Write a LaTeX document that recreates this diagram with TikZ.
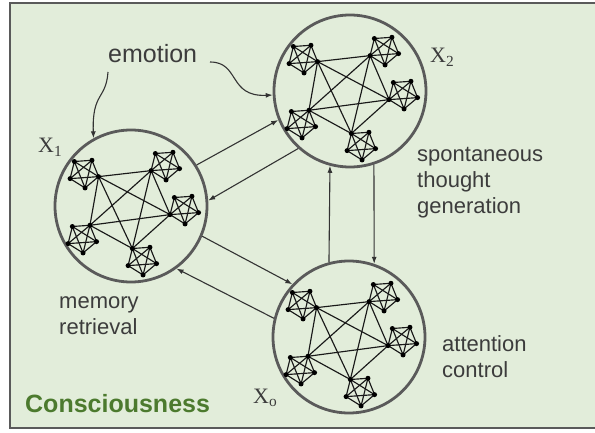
\documentclass[tikz,border=0pt]{standalone}
\usepackage{fontspec}
\setmainfont{Liberation Sans}
\newfontfamily\varfont{Liberation Serif}
\usetikzlibrary{calc,arrows.meta}
\definecolor{bgreen}{HTML}{E2EDDA}
\definecolor{cgreen}{HTML}{4C7A2E}
\definecolor{ringgray}{HTML}{5A5A5A}
\definecolor{txtgray}{HTML}{3C3C3C}
\tikzset{
  bignet/.style={circle, draw=ringgray, line width=2.8pt, minimum size=152pt, inner sep=0pt},
  link/.style={draw=black!90, line width=1.15pt},
  flow/.style={draw=black!80, line width=1.1pt, -{Latex[length=7pt,width=5pt]}},
  lbl/.style={font=\fontsize{22}{26}\selectfont, text=txtgray, align=left, inner sep=0pt},
  varlbl/.style={font=\varfont\fontsize{22}{26}\selectfont, text=txtgray, inner sep=0pt},
}
% five 5-cliques, hubs joined
\newcommand{\cliquenet}[1]{%
  \foreach \i/\cx/\cy/\h in {1/-47/-33/0, 2/34/-41/2, 3/53/3/2, 4/-49/32/4, 5/11/54/3}{
    \foreach \k in {0,...,4}
      \coordinate (#1-\i-\k) at ($(#1)+(\cx,\cy)+(14+72*\k:15)$);
    \foreach \k in {0,...,3}{
      \pgfmathtruncatemacro\nxt{\k+1}
      \foreach \m in {\nxt,...,4}
        \draw[link] (#1-\i-\k) -- (#1-\i-\m);
    }
    \coordinate (#1-h\i) at (#1-\i-\h);
  }
  % hubs
  \foreach \a in {1,...,4}{
    \pgfmathtruncatemacro\nxt{\a+1}
    \foreach \b in {\nxt,...,5}
      \draw[link] (#1-h\a) -- (#1-h\b);
  }
  % dots
  \foreach \i in {1,...,5}
    \foreach \k in {0,...,4}
      \fill (#1-\i-\k) circle (2.5);
}

\begin{document}
\begin{tikzpicture}[x=1pt, y=-1pt]
  \useasboundingbox (0,0) rectangle (595,433);
  %frame
  \draw[fill=bgreen, draw=ringgray, line width=2.5pt] (10,3) rectangle (610,428);

  %networks
  \node[bignet] (x1) at (131,206) {};
  \node[bignet] (x2) at (350,91) {};
  \node[bignet] (x0) at (349,337) {};
  \cliquenet{x1}
  \cliquenet{x2}
  \cliquenet{x0}

  %arrows
  \draw[flow] (x1.32.5) -- (x2.202.5);
  \draw[flow] (x2.228) -- (x1.4);
  \draw[flow] (x0.105) -- (x2.255);
  \draw[flow] (x2.288) -- (x0.71);
  \draw[flow] (x1.337) -- (x0.137);
  \draw[flow] (x0.166.5) -- (x1.306);

  %labels
  \node[lbl, font=\fontsize{25}{30}\selectfont, anchor=base west] (emotion) at (108,63) {emotion};
  \node[lbl, anchor=base west] (spont) at (417,214) {spontaneous\\thought\\generation};
  \node[lbl, anchor=base west] (attn) at (442,377) {attention\\control};
  \node[lbl, anchor=base west] (memo) at (59,334) {memory\\retrieval};
  \node[font=\bfseries\fontsize{25}{30}\selectfont, text=cgreen, anchor=base west, inner sep=0pt] (consc) at (25,412) {Consciousness};
  \node[varlbl, anchor=base west] (x1lbl) at (38,153) {X\textsubscript{1}};
  \node[varlbl, anchor=base west] (x2lbl) at (430,63) {X\textsubscript{2}};
  \node[varlbl, anchor=base west] (x0lbl) at (253,403) {X\textsubscript{o}};

  %emotion arrows
  \coordinate (emo1) at (108,72);
  \coordinate (emo2) at (210,62);
  \draw[flow] (emo1) .. controls (106,100) and (92,92) .. (x1.119);
  \draw[flow] (emo2) .. controls (240,62) and (228,97) .. (x2.183);
\end{tikzpicture}
\end{document}
